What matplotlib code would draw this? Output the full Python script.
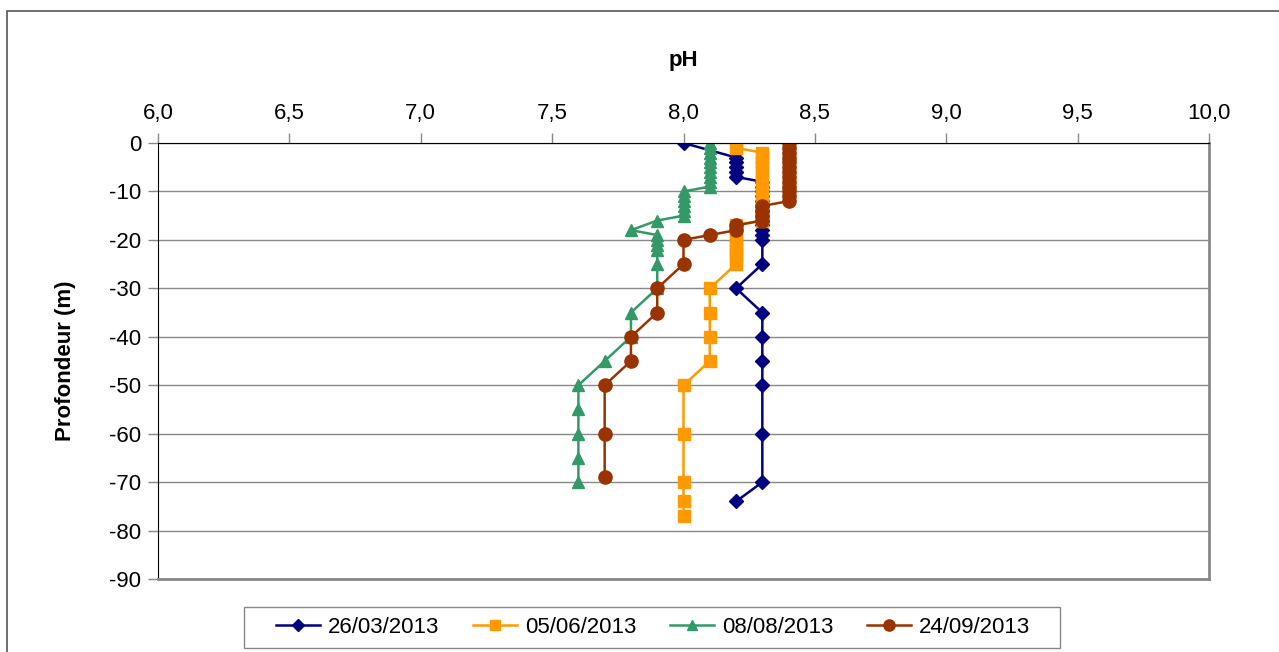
import matplotlib
matplotlib.use("Agg")
import matplotlib.pyplot as plt
from matplotlib.ticker import FuncFormatter, MultipleLocator
from matplotlib.patches import Rectangle

plt.rcParams['font.family'] = ['Liberation Sans', 'DejaVu Sans']
plt.rcParams['axes.unicode_minus'] = False

# pH profiles (depth in m, pH)
depth_0326 = [0, -3, -4, -5, -6, -7, -8, -9, -10, -11, -12, -13, -14, -15, -16,
              -17, -18, -19, -20, -25, -30, -35, -40, -45, -50, -60, -70, -74]
ph_0326 = [8.0, 8.2, 8.2, 8.2, 8.2, 8.2, 8.3, 8.3, 8.3, 8.3, 8.3, 8.3, 8.3, 8.3, 8.3,
           8.3, 8.3, 8.3, 8.3, 8.3, 8.2, 8.3, 8.3, 8.3, 8.3, 8.3, 8.3, 8.2]

depth_0506 = [0, -1, -2, -3, -4, -5, -6, -7, -8, -9, -10, -11, -12, -13, -14, -15, -16,
              -17, -18, -19, -20, -21, -22, -23, -24, -25,
              -30, -35, -40, -45, -50, -60, -70, -74, -77]
ph_0506 = [8.2, 8.2, 8.3, 8.3, 8.3, 8.3, 8.3, 8.3, 8.3, 8.3, 8.3, 8.3, 8.3, 8.3, 8.3, 8.3, 8.3,
           8.2, 8.2, 8.2, 8.2, 8.2, 8.2, 8.2, 8.2, 8.2,
           8.1, 8.1, 8.1, 8.1, 8.0, 8.0, 8.0, 8.0, 8.0]

depth_0808 = [0, -1, -2, -3, -4, -5, -6, -7, -8, -9, -10, -11, -12, -13, -14, -15,
              -16, -18, -19, -20, -21, -22, -25, -30, -35, -40, -45,
              -50, -55, -60, -65, -70]
ph_0808 = [8.1, 8.1, 8.1, 8.1, 8.1, 8.1, 8.1, 8.1, 8.1, 8.1, 8.0, 8.0, 8.0, 8.0, 8.0, 8.0,
           7.9, 7.8, 7.9, 7.9, 7.9, 7.9, 7.9, 7.9, 7.8, 7.8, 7.7,
           7.6, 7.6, 7.6, 7.6, 7.6]

depth_0924 = [0, -1, -2, -3, -4, -5, -6, -7, -8, -9, -10, -11, -12,
              -13, -14, -15, -16, -17, -18, -19, -20, -25, -30, -35, -40, -45,
              -50, -60, -69]
ph_0924 = [8.4, 8.4, 8.4, 8.4, 8.4, 8.4, 8.4, 8.4, 8.4, 8.4, 8.4, 8.4, 8.4,
           8.3, 8.3, 8.3, 8.3, 8.2, 8.2, 8.1, 8.0, 8.0, 7.9, 7.9, 7.8, 7.8,
           7.7, 7.7, 7.7]

labels = ['26/03/2013', '05/06/2013', '08/08/2013', '24/09/2013']

W, H = 1279, 652
fig = plt.figure(figsize=(W / 100, H / 100), dpi=100)
fig.patches.append(Rectangle((7 / W, -0.1), 1.2, 1 - 11 / H + 0.1, transform=fig.transFigure,
                             fill=False, edgecolor='#555555', lw=1.2))

ax = fig.add_axes([158 / W, 1 - 579 / H, (1209 - 158) / W, (579 - 143) / H])

# series order as in the original: later series drawn on top
ax.plot(ph_0326, depth_0326, color='#000080', marker='D', ms=7, lw=1.8, label=labels[0])
ax.plot(ph_0506, depth_0506, color='#FF9900', marker='s', ms=9, lw=1.8, label=labels[1])
ax.plot(ph_0808, depth_0808, color='#339966', marker='^', ms=9, lw=1.8, label=labels[2])
ax.plot(ph_0924, depth_0924, color='#993300', marker='o', ms=9.5, lw=1.8, label=labels[3])

ax.set_xlim(6.0, 10.0)
ax.set_ylim(-90, 0)
ax.xaxis.set_major_locator(MultipleLocator(0.5))
ax.yaxis.set_major_locator(MultipleLocator(10))
ax.xaxis.set_major_formatter(FuncFormatter(lambda v, p: ('%.1f' % v).replace('.', ',')))
ax.yaxis.set_major_formatter(FuncFormatter(lambda v, p: '%d' % round(v)))
ax.xaxis.tick_top()
ax.xaxis.set_label_position('top')
ax.tick_params(axis='both', labelsize=16, length=7, width=1, color='#888888', direction='out')
ax.tick_params(axis='x', pad=7)
ax.tick_params(axis='y', pad=5)
ax.set_xlabel('pH', fontsize=16, fontweight='bold', labelpad=26)
ax.set_ylabel('Profondeur (m)', fontsize=16, fontweight='bold', labelpad=24)

ax.grid(axis='y', color='#888888', lw=1)
ax.set_axisbelow(True)
ax.spines['top'].set_color('black')
ax.spines['left'].set_color('black')
ax.spines['right'].set_color('#888888')
ax.spines['bottom'].set_color('#888888')
ax.spines['right'].set_linewidth(2)
ax.spines['bottom'].set_linewidth(2)

# legend entries without frame, box drawn separately
fig.legend(loc='center', bbox_to_anchor=(653 / W, 1 - 627.5 / H), ncol=4, fontsize=16,
           frameon=False, handlelength=2.0, handletextpad=0.35, columnspacing=1.5,
           markerscale=0.85)
fig.patches.append(Rectangle((244 / W, 1 - 648 / H), (1060 - 244) / W, 41 / H,
                             transform=fig.transFigure, fill=False,
                             edgecolor='#888888', lw=1))

fig.savefig('out.png', dpi=100)
